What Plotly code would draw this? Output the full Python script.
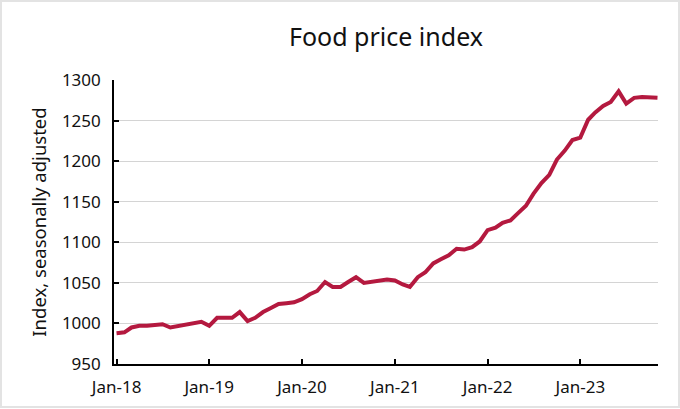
import plotly.graph_objects as go
import pandas as pd

months = pd.date_range("2018-01-01", "2023-11-01", freq="MS")
values = [
    988, 989, 995, 997, 997, 998, 999, 995, 997, 999, 1000, 1002,
    997, 1007, 1007, 1007, 1014, 1003, 1007, 1014, 1019, 1024, 1025, 1026,
    1030, 1036, 1040, 1051, 1045, 1045, 1051, 1057, 1050, 1051, 1052, 1054,
    1053, 1048, 1045, 1057, 1063, 1074, 1079, 1084, 1092, 1091, 1094, 1101,
    1115, 1118, 1124, 1127, 1136, 1145, 1160, 1173, 1183, 1202, 1213, 1226,
    1229, 1251, 1260, 1268, 1273, 1286, 1271, 1278, 1279, 1279, 1278,
]
tick_dates = ["2018-01-01", "2019-01-01", "2020-01-01", "2021-01-01", "2022-01-01", "2023-01-01"]
tick_labels = ["Jan-18", "Jan-19", "Jan-20", "Jan-21", "Jan-22", "Jan-23"]
y_ticks = [950, 1000, 1050, 1100, 1150, 1200, 1250, 1300]

W, H = 680, 409
ML, MR, MT, MB = 114, 22, 80, 45
pw, ph = W - ML - MR, H - MT - MB

FONT = "Noto Sans"

fig = go.Figure()
fig.add_trace(go.Scatter(
    x=months, y=values, mode="lines",
    line=dict(color="#B4193F", width=4), hoverinfo="skip",
))

fig.update_layout(
    width=W, height=H,
    margin=dict(l=ML, r=MR, t=MT, b=MB),
    paper_bgcolor="white", plot_bgcolor="white",
    showlegend=False,
    title=dict(text="Food price index", x=0.5, xanchor="center", xref="paper",
               y=1 - 37 / H, yanchor="middle",
               font=dict(family=FONT, size=25, color="#111111")),
    font=dict(family=FONT, color="#111111"),
)
fig.update_xaxes(
    type="date", range=["2017-12-22", "2023-11-03"],
    tickvals=tick_dates, ticktext=tick_labels,
    ticks="inside", ticklen=5, tickwidth=1.5, tickcolor="black",
    showline=True, linecolor="black", linewidth=1.6,
    showgrid=False, zeroline=False,
    tickfont=dict(family=FONT, size=17, color="#111111"),
    ticklabelstandoff=7,
)
fig.update_yaxes(
    range=[950, 1300], tickvals=y_ticks,
    ticks="inside", ticklen=5, tickwidth=1.5, tickcolor="black",
    showline=True, linecolor="black", linewidth=1.6,
    showgrid=True, gridcolor="#D4D4D4", gridwidth=1.4, zeroline=False,
    tickfont=dict(family=FONT, size=17, color="#111111"),
    ticklabelstandoff=8,
    title=dict(text="Index, seasonally adjusted", standoff=10,
               font=dict(family=FONT, size=18.5, color="#111111")),
)
# light frame around the picture
fig.add_shape(type="rect", xref="paper", yref="paper",
              x0=(1 - ML) / pw, x1=(W - 1 - ML) / pw,
              y0=-(MB - 2) / ph, y1=(H - 1 - MB) / ph,
              line=dict(color="#E3E3E3", width=2), layer="below")

fig.write_html("out.html", config={"displayModeBar": False},
               post_script="document.body.style.margin='0';")
